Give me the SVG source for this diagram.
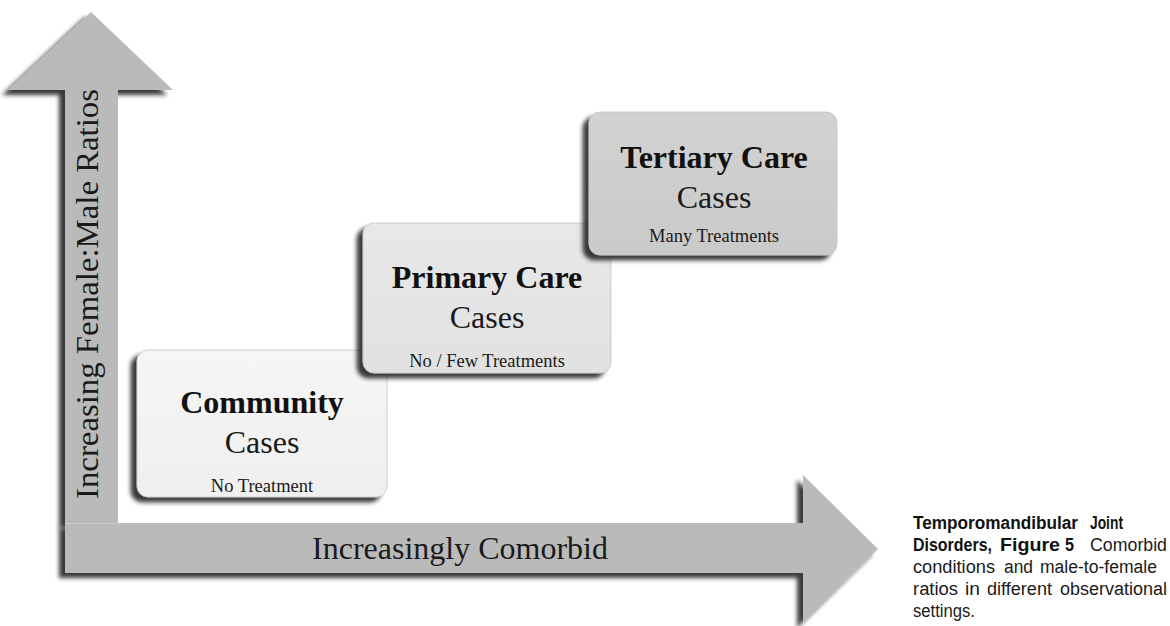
<svg xmlns="http://www.w3.org/2000/svg" width="1170" height="626" viewBox="0 0 1170 626">
  <defs>
    <filter id="shadow" x="-10%" y="-10%" width="120%" height="120%">
      <feGaussianBlur in="SourceAlpha" stdDeviation="2.2"/>
      <feOffset dx="-6" dy="5" result="b"/>
      <feFlood flood-color="#1a1a1a" flood-opacity="0.85"/>
      <feComposite in2="b" operator="in" result="s"/>
      <feMerge><feMergeNode in="s"/><feMergeNode in="SourceGraphic"/></feMerge>
    </filter>
    <linearGradient id="gCom" x1="0" y1="0" x2="0" y2="1">
      <stop offset="0" stop-color="#f6f6f6"/><stop offset="1" stop-color="#efefef"/>
    </linearGradient>
    <linearGradient id="gPri" x1="0" y1="0" x2="0" y2="1">
      <stop offset="0" stop-color="#e8e8e8"/><stop offset="1" stop-color="#e1e1e1"/>
    </linearGradient>
    <linearGradient id="gTer" x1="0" y1="0" x2="0" y2="1">
      <stop offset="0" stop-color="#d2d2d2"/><stop offset="1" stop-color="#cacaca"/>
    </linearGradient>
  </defs>
  <style>
    .arrow { fill: #bababa; }
    .box { stroke: #c4c4c4; stroke-width: 0.8; }
    .title { font-family: "Liberation Serif", "Times New Roman", serif; font-weight: bold; font-size: 32px; fill: #111; text-anchor: middle; }
    .cases { font-family: "Liberation Serif", "Times New Roman", serif; font-size: 32px; fill: #1a1a1a; text-anchor: middle; }
    .sub { font-family: "Liberation Serif", "Times New Roman", serif; font-size: 18.5px; fill: #1a1a1a; text-anchor: middle; }
    .axis { font-family: "Liberation Serif", "Times New Roman", serif; font-size: 32px; fill: #1a1a1a; text-anchor: middle; }
    .cap { font-family: "Liberation Sans", Arial, sans-serif; font-size: 18px; fill: #1a1a1a; }
    .capb { font-family: "Liberation Sans", Arial, sans-serif; font-size: 18px; font-weight: bold; fill: #111; }
  </style>

  <g id="connectors">
    <g id="axis-y" filter="url(#shadow)">
      <polygon class="arrow" points="91,12 173,90 118,90 118,523 65,523 65,90 8,90"/>
    </g>
    <g id="axis-x" filter="url(#shadow)">
      <polygon class="arrow" points="65,523 803,523 803,475 878,549 803,623 803,573 65,573"/>
      <line x1="65" y1="523.5" x2="118" y2="523.5" stroke="#cdcdcd" stroke-width="1"/>
    </g>
    <text class="axis" transform="translate(98,294) rotate(-90)" x="0" y="0" textLength="410" lengthAdjust="spacingAndGlyphs">Increasing Female:Male Ratios</text>
    <text class="axis" x="460" y="559">Increasingly Comorbid</text>
  </g>

  <g id="community">
    <rect class="box" x="137" y="350" width="250" height="147" rx="11" fill="url(#gCom)" filter="url(#shadow)"/>
    <text class="title" x="262" y="413">Community</text>
    <text class="cases" x="262" y="453">Cases</text>
    <text class="sub" x="262" y="492">No Treatment</text>
  </g>

  <g id="primary">
    <rect class="box" x="363" y="223" width="248" height="150" rx="11" fill="url(#gPri)" filter="url(#shadow)"/>
    <text class="title" x="487" y="288">Primary Care</text>
    <text class="cases" x="487" y="328">Cases</text>
    <text class="sub" x="487" y="367">No / Few Treatments</text>
  </g>

  <g id="tertiary">
    <rect class="box" x="589" y="112" width="248" height="143" rx="11" fill="url(#gTer)" filter="url(#shadow)"/>
    <text class="title" x="714" y="168">Tertiary Care</text>
    <text class="cases" x="714" y="208">Cases</text>
    <text class="sub" x="714" y="242">Many Treatments</text>
  </g>

  <g id="caption">
    <text class="capb" x="913" y="529" textLength="165" lengthAdjust="spacingAndGlyphs">Temporomandibular</text>
    <text class="capb" x="1090" y="529" textLength="33" lengthAdjust="spacingAndGlyphs">Joint</text>
    <text class="capb" x="913" y="551" textLength="79" lengthAdjust="spacingAndGlyphs">Disorders,</text>
    <text class="capb" x="1000" y="551" textLength="60" lengthAdjust="spacingAndGlyphs">Figure</text>
    <text class="capb" x="1065" y="551" textLength="9" lengthAdjust="spacingAndGlyphs">5</text>
    <text class="cap" x="1090" y="551" textLength="77" lengthAdjust="spacingAndGlyphs">Comorbid</text>
    <text class="cap" x="913" y="573" textLength="82" lengthAdjust="spacingAndGlyphs">conditions</text>
    <text class="cap" x="1004" y="573" textLength="29" lengthAdjust="spacingAndGlyphs">and</text>
    <text class="cap" x="1040" y="573" textLength="117" lengthAdjust="spacingAndGlyphs">male-to-female</text>
    <text class="cap" x="913" y="595" textLength="45" lengthAdjust="spacingAndGlyphs">ratios</text>
    <text class="cap" x="965" y="595" textLength="15" lengthAdjust="spacingAndGlyphs">in</text>
    <text class="cap" x="987" y="595" textLength="65" lengthAdjust="spacingAndGlyphs">different</text>
    <text class="cap" x="1060" y="595" textLength="107" lengthAdjust="spacingAndGlyphs">observational</text>
    <text class="cap" x="913" y="617" textLength="62" lengthAdjust="spacingAndGlyphs">settings.</text>
  </g>
</svg>
